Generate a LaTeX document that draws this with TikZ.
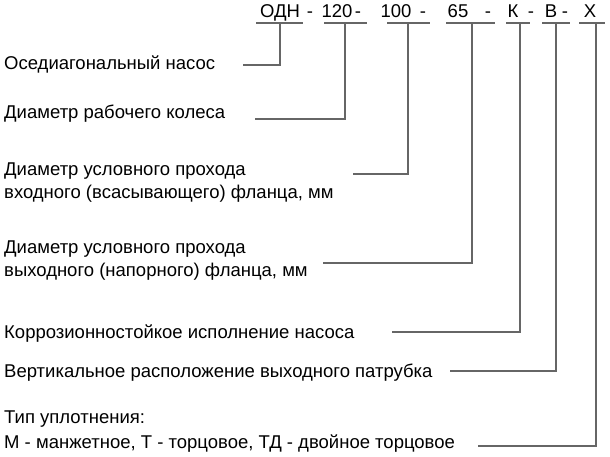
\documentclass[tikz,border=0pt]{standalone}
\usepackage{fontspec}
\setmainfont{Liberation Sans}
\begin{document}
\begin{tikzpicture}[x=1pt,y=-1pt,
  lbl/.style={anchor=base west,inner sep=0pt,font=\fontsize{18.5}{22}\selectfont},
  code/.style={anchor=base,inner sep=0pt,font=\fontsize{18.5}{22}\selectfont},
  ldr/.style={draw=black!60,line width=1.2pt}]
\useasboundingbox (0,0) rectangle (610,457);
% code line
\node[code] (c1) at (280,18) {ОДН};
\node[code] (d1) at (310,18) {-};
\node[code] (c2) at (337,18) {120};
\node[code] (d2) at (358,18) {-};
\node[code] (c3) at (396,18) {100};
\node[code] (d3) at (423,18) {-};
\node[code] (c4) at (458,18) {65};
\node[code] (d4) at (488,18) {-};
\node[code] (c5) at (513,18) {К};
\node[code] (d5) at (531,18) {-};
\node[code] (c6) at (551,18) {В};
\node[code] (d6) at (565,18) {-};
\node[code] (c7) at (590,18) {Х};
% underlines
\coordinate (u1a) at (256,23); \coordinate (u1b) at (303,23);
\coordinate (u2a) at (324,23); \coordinate (u2b) at (367,23);
\coordinate (u3a) at (387,23); \coordinate (u3b) at (430,23);
\coordinate (u4a) at (446,23); \coordinate (u4b) at (495,23);
\coordinate (u5a) at (506,23); \coordinate (u5b) at (530,23);
\coordinate (u6a) at (542,23); \coordinate (u6b) at (570,23);
\coordinate (u7a) at (579,23); \coordinate (u7b) at (605,23);
\foreach \i in {1,...,7}{\draw[ldr] (u\i a) -- (u\i b);}
% labels
\node[lbl] (t1) at (4,70) {Оседиагональный насос};
\node[lbl] (t2) at (4,119) {Диаметр рабочего колеса};
\node[lbl] (t3) at (4,176) {Диаметр условного прохода};
\node[lbl] (t3b) at (4,198) {входного (всасывающего) фланца, мм};
\node[lbl] (t4) at (4,253) {Диаметр условного прохода};
\node[lbl] (t4b) at (4,276) {выходного (напорного) фланца, мм};
\node[lbl] (t5) at (4,338) {Коррозионностойкое исполнение насоса};
\node[lbl] (t6) at (4,377) {Вертикальное расположение выходного патрубка};
\node[lbl] (t7) at (4,423) {Тип уплотнения:};
\node[lbl] (t7b) at (4,448) {М - манжетное, Т - торцовое, ТД - двойное торцовое};
% leader ends
\coordinate (e1) at (243,65);
\coordinate (e2) at (255,119);
\coordinate (e3) at (353,174);
\coordinate (e4) at (323,263);
\coordinate (e5) at (392,332);
\coordinate (e6) at (450,371);
\coordinate (e7) at (478,446);
\draw[ldr] (e1) -| (280,23);
\draw[ldr] (e2) -| (345,23);
\draw[ldr] (e3) -| (408,23);
\draw[ldr] (e4) -| (472,23);
\draw[ldr] (e5) -| (520,23);
\draw[ldr] (e6) -| (556,23);
\draw[ldr] (e7) -| (596,23);
\end{tikzpicture}
\end{document}
